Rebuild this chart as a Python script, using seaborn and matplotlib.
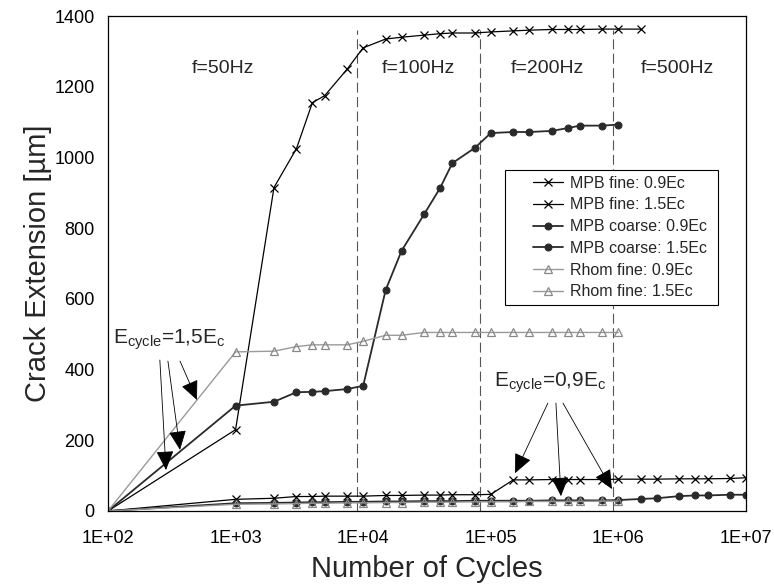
import matplotlib
matplotlib.use("Agg")
import matplotlib.pyplot as plt
from matplotlib.patches import Rectangle
import seaborn as sns

cycles = [1e2, 1e3, 2e3, 3e3, 4e3, 5e3, 7.5e3, 1e4, 1.5e4, 2e4, 3e4, 4e4, 5e4, 7.5e4,
          1e5, 1.5e5, 2e5, 3e5, 4e5, 5e5, 7.5e5, 1e6, 1.5e6, 2e6, 3e6, 4e6, 5e6, 7.5e6, 1e7]

mpb_fine_09 = [0, 33, 36, 41, 41, 42, 42, 42, 44, 44, 45, 45, 46, 46, 47,
               88, 88, 89, 89, 89, 89, 90, 90, 90, 91, 91, 91, 92, 94]
mpb_fine_15 = [0, 230, 915, 1025, 1155, 1175, 1250, 1310, 1335, 1340, 1346, 1350, 1352, 1352,
               1355, 1358, 1360, 1362, 1362, 1362, 1363, 1363, 1363]
mpb_coarse_09 = [0, 22, 23, 24, 25, 25, 26, 26, 27, 27, 28, 28, 28, 29, 29,
                 29, 29, 30, 30, 30, 30, 31, 34, 36, 42, 44, 44, 46, 46]
mpb_coarse_15 = [0, 298, 309, 336, 337, 339, 345, 354, 625, 736, 839, 913, 984, 1027,
                 1069, 1072, 1072, 1075, 1083, 1090, 1090, 1093]
rhom_fine_09 = [0, 19, 20, 21, 22, 22, 23, 23, 24, 24, 25, 25, 25, 26,
                26, 26, 27, 27, 27, 27, 28, 28]
rhom_fine_15 = [0, 450, 452, 465, 470, 470, 470, 480, 497, 497, 505, 505, 505, 505,
                505, 505, 505, 505, 505, 505, 505, 505]

freq_lines = [9e3, 8.2e4, 9e5]
freq_labels = ["f=50Hz", "f=100Hz", "f=200Hz", "f=500Hz"]
freq_label_x = [800, 27000, 280000, 2.9e6]

x_ticks = [1e2, 1e3, 1e4, 1e5, 1e6, 1e7]
x_tick_labels = ["1E+02", "1E+03", "1E+04", "1E+05", "1E+06", "1E+07"]
y_ticks = [0, 200, 400, 600, 800, 1000, 1200, 1400]

sns.set_theme(style="white")
plt.rcParams["font.family"] = ["Liberation Sans", "DejaVu Sans"]
plt.rcParams["mathtext.fontset"] = "custom"
plt.rcParams["mathtext.rm"] = "Liberation Sans"

fig = plt.figure(figsize=(7.74, 5.85), dpi=100)
ax = fig.add_axes([0.1395, 0.1265, 0.8243, 0.8461])

for xv in freq_lines:
    ax.plot([xv, xv], [0, 1360], color="#555555", lw=0.8, ls=(0, (9, 4)), zorder=1)

fine_style = dict(color="black", marker="x", markersize=6, markeredgecolor="black",
                  markeredgewidth=0.9, linewidth=0.9)
coarse_style = dict(color="#2a2a2a", marker="o", markersize=5, markeredgecolor="#2a2a2a", linewidth=1.3)
rhom_style = dict(color="#9a9a9a", marker="^", markersize=5.5, markerfacecolor="none",
                  markeredgecolor="#888888", markeredgewidth=0.9, linewidth=1.0)

series = [
    ("MPB fine: 0.9Ec", mpb_fine_09, fine_style),
    ("MPB fine: 1.5Ec", mpb_fine_15, fine_style),
    ("MPB coarse: 0.9Ec", mpb_coarse_09, coarse_style),
    ("MPB coarse: 1.5Ec", mpb_coarse_15, coarse_style),
    ("Rhom fine: 0.9Ec", rhom_fine_09, rhom_style),
    ("Rhom fine: 1.5Ec", rhom_fine_15, rhom_style),
]
for label, values, style in series:
    sns.lineplot(x=cycles[:len(values)], y=values, label=label, ax=ax, estimator=None, **style)

ax.set_xscale("log")
ax.set_xlim(1e2, 1e7)
ax.set_ylim(0, 1400)
ax.set_xticks(x_ticks)
ax.set_xticklabels(x_tick_labels)
ax.minorticks_off()
ax.set_yticks(y_ticks)
ax.tick_params(axis="both", direction="inout", length=7, width=0.7, colors="black",
               labelsize=13, pad=6)
ax.tick_params(axis="x", pad=10)
for sp in ax.spines.values():
    sp.set_color("black")
    sp.set_linewidth(0.9)

ax.set_xlabel("Number of Cycles", fontsize=21, labelpad=6)
ax.set_ylabel("Crack Extension [µm]", fontsize=21, labelpad=2)

for txt, xv in zip(freq_labels, freq_label_x):
    ax.text(xv, 1253, txt, fontsize=14, ha="center", va="center")

arrow = dict(arrowstyle="-|>,head_length=0.55,head_width=0.25", mutation_scale=22,
             color="black", lw=0.6, shrinkA=0, shrinkB=0)

ax.text(300, 486, r"E$_{\mathrm{cycle}}$=1,5E$_{\mathrm{c}}$", fontsize=15, ha="center", va="center")
for start, tip in [((255, 427), (285, 116)), ((295, 424), (367, 173)), ((367, 424), (498, 314))]:
    ax.annotate("", xy=tip, xytext=start, arrowprops=arrow)

ax.text(290000, 362, r"E$_{\mathrm{cycle}}$=0,9E$_{\mathrm{c}}$", fontsize=15, ha="center", va="center")
for start, tip in [((280000, 305), (155000, 107)), ((324000, 305), (355000, 42)),
                   ((368000, 305), (890000, 62))]:
    ax.annotate("", xy=tip, xytext=start, arrowprops=arrow)

# legend frame drawn separately so it can be as wide as the original box
ax.add_patch(Rectangle((0.622, 0.416), 0.334, 0.273, transform=ax.transAxes,
                       facecolor="white", edgecolor="black", lw=0.8, zorder=4))
leg = ax.legend(loc="center", bbox_to_anchor=(0.802, 0.5525), fontsize=11.5,
                frameon=False, labelspacing=0.42, handlelength=1.9, handletextpad=0.4,
                borderpad=0.3)
leg.set_zorder(5)

fig.savefig("out.png", dpi=100)
